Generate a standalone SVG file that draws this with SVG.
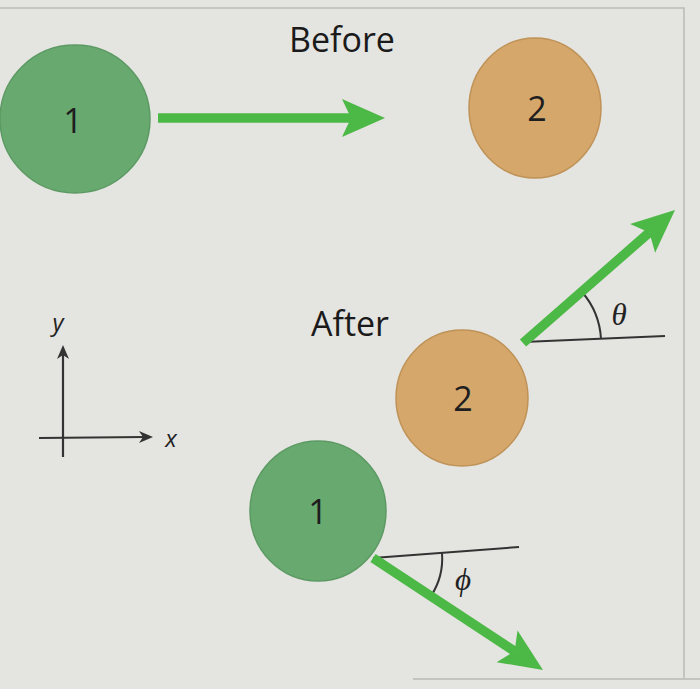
<svg xmlns="http://www.w3.org/2000/svg" width="700" height="689" viewBox="0 0 700 689">
<style>
.bg{fill:#e4e4e0}
.frame{stroke:#b9b9b6;stroke-width:1.5;fill:none}
.ball1{fill:#68a96f;stroke:#5c9a63;stroke-width:1.5}
.ball2{fill:#d5a76b;stroke:#bf9257;stroke-width:1.5}
.num{font-family:"Open Sans","Noto Sans",sans-serif;font-size:34px;fill:#1e1e1e;text-anchor:middle}
.title{font-family:"Open Sans","Noto Sans",sans-serif;font-size:34px;fill:#1a1a1a;text-anchor:middle}
.vel{stroke:#4cb845;stroke-width:9.5;fill:none;marker-end:url(#big)}
.ref{stroke:#333;stroke-width:2;fill:none}
.axis{stroke:#333;stroke-width:2.2;fill:none;marker-end:url(#small)}
.axlbl{font-family:"Open Sans","Noto Sans",sans-serif;font-style:italic;font-size:24px;fill:#222;text-anchor:middle}
.greek{font-family:"Liberation Serif","DejaVu Serif",serif;font-style:italic;font-size:31px;fill:#222;text-anchor:middle}
</style>
<defs>
<marker id="big" markerUnits="userSpaceOnUse" viewBox="-46 -25 50 50" markerWidth="50" markerHeight="50" refX="-34" refY="0" orient="auto">
<path d="M0,0 L-43,-19 L-34,0 L-43,19 Z" fill="#4cb845"/>
</marker>
<marker id="small" markerUnits="userSpaceOnUse" viewBox="-16 -8 18 16" markerWidth="18" markerHeight="16" refX="-8" refY="0" orient="auto">
<path d="M0,0 L-14,-6 L-10,0 L-14,6 Z" fill="#333"/>
</marker>
</defs>
<rect class="bg" x="0" y="0" width="700" height="689"/>
<path class="frame" d="M0,8 H684 V678"/>
<path class="frame" d="M413,679 H700"/>

<g id="title-before"><text class="title" x="342" y="52">Before</text></g>
<g id="title-after"><text class="title" x="350" y="336">After</text></g>

<g id="ball1-before">
<ellipse class="ball1" cx="75" cy="119" rx="75" ry="74"/>
<text class="num" x="73" y="133">1</text>
</g>
<g id="ball2-before">
<ellipse class="ball2" cx="535" cy="108" rx="66" ry="70"/>
<text class="num" x="537" y="121">2</text>
</g>
<g id="ball2-after">
<ellipse class="ball2" cx="462" cy="398" rx="66" ry="68"/>
<text class="num" x="463" y="411">2</text>
</g>
<g id="ball1-after">
<ellipse class="ball1" cx="318" cy="511" rx="68" ry="70"/>
<text class="num" x="318" y="524">1</text>
</g>

<g id="axes">
<line class="axis" x1="63" y1="457" x2="63" y2="353"/>
<line class="axis" x1="39" y1="438" x2="145" y2="437"/>
<text class="axlbl" x="58" y="331">y</text>
<text class="axlbl" x="171" y="447">x</text>
</g>

<g id="connectors">
<line class="vel" x1="158" y1="118" x2="351" y2="118"/>
<line class="ref" x1="523" y1="342" x2="665" y2="336"/>
<path class="ref" d="M601,339 A78,78 0 0 0 582,292"/>
<line class="vel" x1="523" y1="343" x2="649.4" y2="232.4"/>
<line class="ref" x1="373" y1="558" x2="519" y2="547"/>
<path class="ref" d="M442,553 A69,69 0 0 1 431,596"/>
<line class="vel" x1="373" y1="558" x2="514.6" y2="651.3"/>
</g>

<g id="angle-labels">
<text class="greek" x="619" y="325">θ</text>
<text class="greek" x="463" y="590">ϕ</text>
</g>
</svg>
